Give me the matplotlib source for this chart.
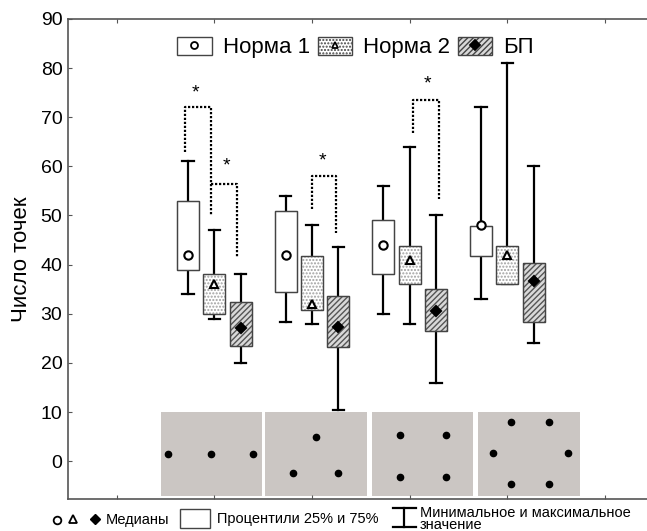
import matplotlib.pyplot as plt
from matplotlib.patches import Rectangle, PathPatch
from matplotlib.lines import Line2D
from matplotlib.legend_handler import HandlerTuple

plt.rcParams['font.family'] = ['Liberation Sans', 'DejaVu Sans']

# Данные: медиана, квартили, мин/макс для каждой группы
groups = [1, 2, 3, 4]
series = ['Норма 1', 'Норма 2', 'БП']
med = [[42, 42, 44, 48],
       [36, 32, 41, 42],
       [27, 27.3, 30.5, 36.7]]
q1 = [[39, 34.5, 38, 41.8],
      [30, 30.8, 36, 36],
      [23.5, 23.3, 26.4, 28.3]]
q3 = [[53, 51, 49, 47.8],
      [38, 41.8, 43.8, 43.7],
      [32.3, 33.6, 35, 40.3]]
lo = [[34, 28.4, 30, 33],
      [29, 28, 28, 36],
      [20, 10.5, 16, 24]]
hi = [[61, 54, 56, 72],
      [47, 48, 64, 81],
      [38, 43.5, 50, 60]]

# Скобки значимости: x слева, низ левой ножки, верх, x справа, низ правой ножки
brackets = [(0.70, 63, 72, 0.96, 50),
            (0.97, 56.5, 56.5, 1.23, 41.5),
            (2.00, 51.4, 58, 2.25, 46.5),
            (3.03, 66.7, 73.6, 3.30, 53.4)]
stars_x = [0.81, 1.12, 2.11, 3.18]
stars_y = [75, 60, 61, 76.8]

# Схемы расположения точек (серые панели внизу)
panel_left = [0.45, 1.52, 2.61, 3.70]
dots_x = [[0.52, 0.96, 1.40],
          [1.80, 2.04, 2.27],
          [2.90, 3.37, 2.90, 3.37],
          [4.04, 4.43, 3.85, 4.62, 4.04, 4.43]]
dots_y = [[1.4, 1.4, 1.4],
          [-2.4, 4.9, -2.4],
          [5.3, 5.3, -3.3, -3.3],
          [7.9, 7.9, 1.6, 1.6, -4.7, -4.7]]

offsets = [-0.27, 0, 0.27]
faces = ['white', 'white', '#d9d9d9']
hatches = [None, '.....', '//////']
hatch_cols = ['#555555', '#a0a0a0', '#555555']
markers = ['o', '^', 'D']
mfaces = ['white', 'white', 'black']
msizes = [6, 6, 5.5]

fig = plt.figure(figsize=(6.47, 5.31), dpi=100)
ax = fig.add_axes([0.105, 0.0603, 0.895, 0.904])

for p, left in enumerate(panel_left):
    ax.add_patch(Rectangle((left, -7), 1.04, 17, facecolor='#cbc6c3',
                           edgecolor='none', zorder=0))
    ax.plot(dots_x[p], dots_y[p], 'o', color='black', markersize=4.5, zorder=1)

for s in range(3):
    stats = []
    for g in range(4):
        stats.append({'med': med[s][g], 'q1': q1[s][g], 'q3': q3[s][g],
                      'whislo': lo[s][g], 'whishi': hi[s][g]})
    pos = [x + offsets[s] for x in groups]
    bp = ax.bxp(stats, positions=pos, widths=0.225, capwidths=0.115,
                showfliers=False, patch_artist=True, manage_ticks=False,
                boxprops=dict(facecolor=faces[s], edgecolor=hatch_cols[s],
                              linewidth=0.8, hatch=hatches[s]),
                whiskerprops=dict(color='black', linewidth=1.6),
                capprops=dict(color='black', linewidth=1.6),
                medianprops=dict(linewidth=0))
    for b in bp['boxes']:
        b.set_zorder(3)
        ax.add_patch(PathPatch(b.get_path(), fill=False, edgecolor='#444444',
                               linewidth=1.0, zorder=4))
    ax.plot(pos, med[s], linestyle='none', marker=markers[s],
            markerfacecolor=mfaces[s], markeredgecolor='black',
            markeredgewidth=1.5, markersize=msizes[s], zorder=5)

for (xl, yl, yt, xr, yr), sx, sy in zip(brackets, stars_x, stars_y):
    ax.plot([xl, xl, xr, xr], [yl, yt, yt, yr], color='black',
            linestyle=(0, (1, 0.8)), linewidth=1.6, zorder=2)
    ax.text(sx, sy, '*', ha='center', va='center', fontsize=14)

ax.set_xlim(-0.5, 5.43)
ax.set_ylim(-7.7, 90)
ax.set_yticks(range(0, 91, 10))
ax.set_xticks(range(0, 6))
ax.set_xticklabels([])
ax.tick_params(axis='both', direction='in', length=3, color='#555555',
               top=True, labelsize=14, pad=4)
for sp in ['left', 'top', 'bottom']:
    ax.spines[sp].set_color('#555555')
    ax.spines[sp].set_linewidth(1.2)
ax.spines['right'].set_visible(False)
ax.set_ylabel('Число точек', fontsize=16, labelpad=6)

# Легенда сверху
handles = []
for s in range(3):
    patch = Rectangle((0, 0), 1, 1, facecolor=faces[s], edgecolor='#444444',
                      hatch=hatches[s], linewidth=1.0)
    mk = Line2D([], [], linestyle='none', marker=markers[s],
                markerfacecolor=mfaces[s], markeredgecolor='black',
                markeredgewidth=1.3, markersize=5)
    handles.append((patch, mk))
ax.legend(handles, series, loc='upper center', bbox_to_anchor=(0.497, 1.005),
          ncol=3, frameon=False, fontsize=16, handlelength=1.55,
          handleheight=0.9, handletextpad=0.5, columnspacing=0.35,
          handler_map={tuple: HandlerTuple(ndivide=1)})

# Пояснения внизу
ov = fig.add_axes([0, 0, 1, 1])
ov.set_xlim(0, 647)
ov.set_ylim(531, 0)
ov.axis('off')
ov.plot([57], [520], 'o', markerfacecolor='white', markeredgecolor='black',
        markeredgewidth=1.3, markersize=5.5)
ov.plot([73], [519], '^', markerfacecolor='white', markeredgecolor='black',
        markeredgewidth=1.3, markersize=5.5)
ov.plot([95], [519], 'D', color='black', markersize=5)
ov.text(106, 520, 'Медианы', fontsize=10.5, va='center')
ov.add_patch(Rectangle((180, 509), 30, 19, facecolor='white',
                       edgecolor='#444444', linewidth=1.0))
ov.text(217, 519, 'Процентили 25% и 75%', fontsize=10.5, va='center')
ov.plot([404, 404], [508, 527], color='black', linewidth=1.6)
ov.plot([393, 416], [508, 508], color='black', linewidth=1.6)
ov.plot([393, 416], [527, 527], color='black', linewidth=1.6)
ov.text(420, 519, 'Минимальное и максимальное\nзначение', fontsize=10.5,
        va='center', linespacing=0.85)

fig.savefig('out.png', dpi=100)
